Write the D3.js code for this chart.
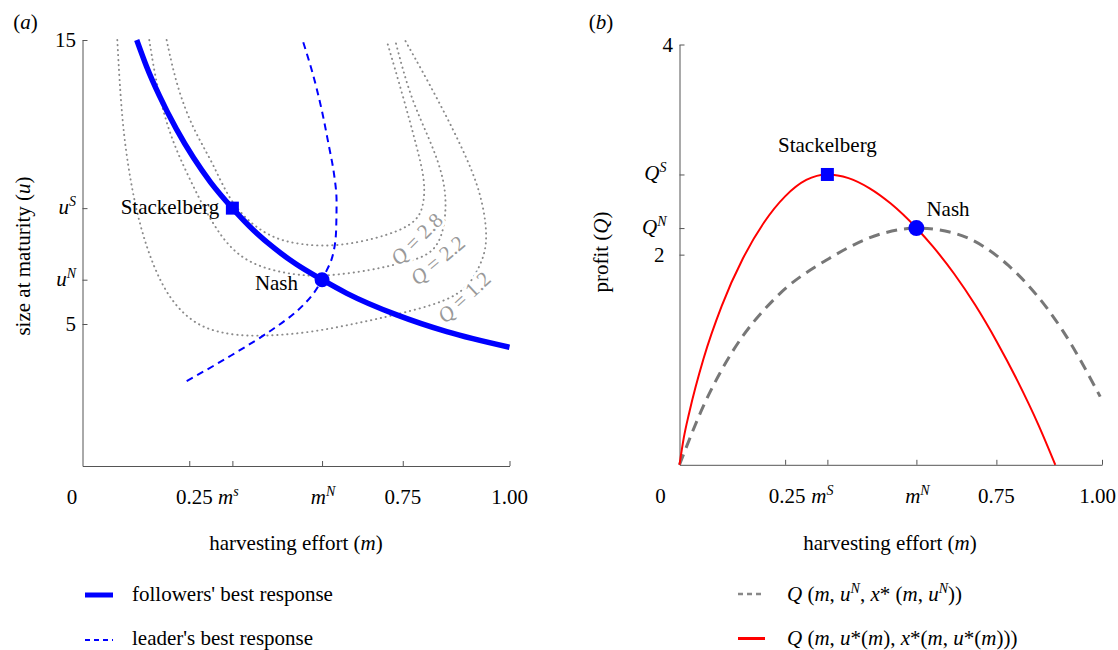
<!DOCTYPE html>
<html><head><meta charset="utf-8">
<script src="https://cdn.jsdelivr.net/npm/d3@7"></script>
<style>
body{margin:0;background:#fff}
svg{display:block}
text{font-family:"Liberation Serif","Times New Roman",Times,serif;font-size:21px;fill:#000}
</style>
</head><body>
<svg id="chart" width="1118" height="650" font-family="Liberation Serif, Times New Roman, serif"></svg>
<script>
// ---------------- data ----------------
// Panel (a): size at maturity u vs harvesting effort m
const followersResponse = [[0.127,15.0],[0.15,14.07],[0.18,13.04],[0.22,11.86],[0.26,10.85],[0.30,9.99],[0.351,9.08],[0.40,8.31],[0.45,7.66],[0.50,7.11],[0.561,6.56],[0.619,6.08],[0.736,5.32],[0.853,4.73],[1.0,4.18]];
const leaderResponse = [[0.517,14.92],[0.538,13.88],[0.559,12.62],[0.576,11.35],[0.5885,10.34],[0.595,9.33],[0.594,8.32],[0.584,7.31],[0.567,6.74],[0.561,6.56],[0.537,6.0],[0.498,5.4],[0.449,4.85],[0.349,3.9],[0.244,2.99]];
const contourQ12 = [[0.0815,15.0],[0.0918,12.18],[0.1112,10.07],[0.1347,8.43],[0.1658,7.02],[0.2049,5.85],[0.2595,5.02],[0.322,4.67],[0.40,4.55],[0.525,4.67],[0.642,5.02],[0.751,5.38],[0.891,5.96],[0.931,7.02],[0.950,7.84],[0.939,9.25],[0.9075,10.66],[0.8295,13.0],[0.755,15.0]];
const contourQ22 = [[0.1564,15.0],[0.1738,13.36],[0.2049,11.60],[0.2518,10.07],[0.3063,8.43],[0.3689,7.25],[0.4625,6.79],[0.556,6.64],[0.681,6.90],[0.7436,7.14],[0.831,7.45],[0.853,8.78],[0.849,10.07],[0.814,11.48],[0.767,13.0],[0.732,15.0]];
const contourQ28 = [[0.197,15.0],[0.2206,13.36],[0.2595,11.83],[0.3063,10.66],[0.350,9.12],[0.4314,8.07],[0.509,7.78],[0.603,7.72],[0.720,8.13],[0.785,8.6],[0.800,9.25],[0.802,10.07],[0.783,11.24],[0.751,13.0],[0.712,15.0]];
const contourLevels = ["1.2","2.2","2.8"];
const contourLabelAt = [[0.893,5.95],[0.831,7.25],[0.782,8.0]];
const contourLabelAngle = [-43,-40,-45];
const stackelbergA = [0.351, 9.08];
const nashA = [0.561, 6.56];
const xTicksA = [0, 0.25, 0.351, 0.561, 0.75, 1.0];
const yTicksA = [15, 9.08, 6.56, 5];

// Panel (b): profit Q vs harvesting effort m
const profitNashU = [[0,0],[0.057,0.563],[0.125,1.075],[0.227,1.588],[0.3543,1.964],[0.4817,2.203],[0.5607,2.253],[0.6516,2.203],[0.779,1.895],[0.9065,1.28],[0.9957,0.649]];
const profitLeader = [[0,0],[0.0102,0.258],[0.023,0.496],[0.057,1.012],[0.10,1.513],[0.15,1.963],[0.20,2.306],[0.25,2.555],[0.30,2.711],[0.35,2.763],[0.40,2.728],[0.45,2.631],[0.50,2.486],[0.5607,2.254],[0.60,2.076],[0.65,1.818],[0.70,1.520],[0.75,1.179],[0.80,0.799],[0.85,0.376],[0.8895,0]];
const stackelbergB = [0.350, 2.763];
const nashB = [0.5607, 2.253];
const xTicksB = [0, 0.25, 0.350, 0.5607, 0.75, 1.0];
const yTicksB = [4, 2.763, 2.253, 2];

// ---------------- drawing ----------------
const svg = d3.select("#chart");
svg.append("rect").attr("width",1118).attr("height",650).attr("fill","#fff");

function rich(g, x, y, parts, anchor){
  const t = g.append("text").attr("x",x).attr("y",y).attr("text-anchor",anchor||"start");
  let up = false;
  parts.forEach(p=>{
    const s = t.append("tspan").text(p.t);
    if(p.i) s.style("font-style","italic");
    if(p.sup){ s.attr("font-size",14); if(!up){ s.attr("dy",-8); up=true; } }
    else if(up){ s.attr("dy",8); up=false; }
  });
  return t;
}
const lineX = (xs,ys)=>d3.line().x(d=>xs(d[0])).y(d=>ys(d[1])).curve(d3.curveMonotoneX);
const lineY = (xs,ys)=>d3.line().x(d=>xs(d[0])).y(d=>ys(d[1])).curve(d3.curveMonotoneY);
const lineB = (xs,ys)=>d3.line().x(d=>xs(d[0])).y(d=>ys(d[1])).curve(d3.curveBasis);

// ===== Panel (a) =====
const xa = d3.scaleLinear().domain([0,1]).range([82.5,509.5]);
const ya = d3.scaleLinear().domain([0,15]).range([466,40]);
const ga = svg.append("g");

ga.append("g").attr("transform",`translate(0,${ya(0)})`)
  .call(d3.axisBottom(xa).tickValues(xTicksA.slice(1)).tickSizeInner(-5).tickSizeOuter(0).tickFormat(""));
ga.append("g").attr("transform",`translate(${xa(0)},0)`)
  .call(d3.axisLeft(ya).tickValues(yTicksA).tickSizeInner(-5).tickSizeOuter(0).tickFormat(""));
ga.selectAll(".domain, .tick line").attr("stroke","#555").attr("stroke-width",1);

// contours
[contourQ12, contourQ22, contourQ28].forEach(c=>{
  ga.append("path").attr("d",lineB(xa,ya)(c)).attr("fill","none")
    .attr("stroke","#8a8a8a").attr("stroke-width",1.9).attr("stroke-dasharray","0.3,4.7").attr("stroke-linecap","round");
});
contourLevels.forEach((lv,i)=>{
  const [m,u]=contourLabelAt[i];
  ga.append("text").attr("transform",`translate(${xa(m)},${ya(u)}) rotate(${contourLabelAngle[i]})`)
    .attr("text-anchor","middle").attr("dy","0.35em").attr("font-size",22)
    .style("fill","#999").attr("stroke","#fff").attr("stroke-width",6).attr("paint-order","stroke")
    .html(`<tspan font-style="italic">Q</tspan> = ${lv}`);
});

// best responses
ga.append("path").attr("d",lineY(xa,ya)(leaderResponse)).attr("fill","none")
  .attr("stroke","#0000ff").attr("stroke-width",2).attr("stroke-dasharray","7,5");
ga.append("path").attr("d",lineX(xa,ya)(followersResponse)).attr("fill","none")
  .attr("stroke","#0000ff").attr("stroke-width",5.5);

ga.append("rect").attr("x",xa(stackelbergA[0])-6.5).attr("y",ya(stackelbergA[1])-6.5)
  .attr("width",13).attr("height",13).attr("fill","#0000ff");
ga.append("circle").attr("cx",xa(nashA[0])).attr("cy",ya(nashA[1])).attr("r",7.5).attr("fill","#0000ff");
ga.append("text").attr("x",xa(stackelbergA[0])-13).attr("y",ya(stackelbergA[1])+6).attr("text-anchor","end").text("Stackelberg");
ga.append("text").attr("x",xa(nashA[0])-24).attr("y",ya(nashA[1])+10).attr("text-anchor","end").text("Nash");

// tick labels (a)
const xlA = ya(0)+38;
rich(ga, xa(0)-10.5, xlA, [{t:"0"}], "middle");
rich(ga, xa(0.25)+5, xlA, [{t:"0.25"}], "middle");
rich(ga, xa(xTicksA[2])-4, xlA, [{t:"m",i:true},{t:"s",i:true,sup:true}], "middle");
rich(ga, xa(xTicksA[3])+1, xlA, [{t:"m",i:true},{t:"N",i:true,sup:true}], "middle");
rich(ga, xa(0.75), xlA, [{t:"0.75"}], "middle");
rich(ga, xa(1), xlA, [{t:"1.00"}], "middle");
const ylx = xa(0)-6.5;
rich(ga, ylx, ya(15)+7, [{t:"15"}], "end");
rich(ga, ylx, ya(yTicksA[1])+6, [{t:"u",i:true},{t:"S",i:true,sup:true}], "end");
rich(ga, ylx, ya(yTicksA[2])+6, [{t:"u",i:true},{t:"N",i:true,sup:true}], "end");
rich(ga, ylx, ya(5)+7, [{t:"5"}], "end");
rich(ga, (xa(0)+xa(1))/2, 550, [{t:"harvesting effort ("},{t:"m",i:true},{t:")"}], "middle");
rich(ga.append("g").attr("transform","translate(30,256) rotate(-90)"), 0, 0, [{t:"size at maturity ("},{t:"u",i:true},{t:")"}], "middle");
rich(ga, 25.5, 29, [{t:"("},{t:"a",i:true},{t:")"}], "middle");

// ===== Panel (b) =====
const xb = d3.scaleLinear().domain([0,1]).range([679.5,1102]);
const yb = d3.scaleLinear().domain([0,4]).range([464.8,44.5]);
const gb = svg.append("g");
gb.append("g").attr("transform",`translate(0,${yb(0)})`)
  .call(d3.axisBottom(xb).tickValues(xTicksB.slice(1)).tickSizeInner(-5).tickSizeOuter(0).tickFormat(""));
gb.append("g").attr("transform",`translate(${xb(0)},0)`)
  .call(d3.axisLeft(yb).tickValues(yTicksB).tickSizeInner(-5).tickSizeOuter(0).tickFormat(""));
gb.selectAll(".domain, .tick line").attr("stroke","#555").attr("stroke-width",1);

gb.append("path").attr("d",lineX(xb,yb)(profitNashU)).attr("fill","none")
  .attr("stroke","#777").attr("stroke-width",3).attr("stroke-dasharray","11,7");
gb.append("path").attr("d",lineX(xb,yb)(profitLeader)).attr("fill","none")
  .attr("stroke","#ff0000").attr("stroke-width",2);
gb.append("rect").attr("x",xb(stackelbergB[0])-6.5).attr("y",yb(stackelbergB[1])-6.5)
  .attr("width",13).attr("height",13).attr("fill","#0000ff");
gb.append("circle").attr("cx",xb(nashB[0])).attr("cy",yb(nashB[1])).attr("r",8).attr("fill","#0000ff");
gb.append("text").attr("x",xb(stackelbergB[0])).attr("y",yb(stackelbergB[1])-22).attr("text-anchor","middle").text("Stackelberg");
gb.append("text").attr("x",xb(nashB[0])+10).attr("y",yb(nashB[1])-12.5).text("Nash");

const xlB = yb(0)+38;
rich(gb, xb(0)-19, xlB, [{t:"0"}], "middle");
rich(gb, xb(0.25)+2, xlB, [{t:"0.25"}], "middle");
rich(gb, xb(xTicksB[2])-5, xlB, [{t:"m",i:true},{t:"S",i:true,sup:true}], "middle");
rich(gb, xb(xTicksB[3])+1, xlB, [{t:"m",i:true},{t:"N",i:true,sup:true}], "middle");
rich(gb, xb(0.75), xlB, [{t:"0.75"}], "middle");
rich(gb, 1116, xlB, [{t:"1.00"}], "end");
rich(gb, xb(0)-6.5, yb(4)+7, [{t:"4"}], "end");
rich(gb, xb(0)-13, yb(yTicksB[1])+6, [{t:"Q",i:true},{t:"S",i:true,sup:true}], "end");
rich(gb, xb(0)-13, yb(yTicksB[2])+6, [{t:"Q",i:true},{t:"N",i:true,sup:true}], "end");
rich(gb, xb(0)-15, yb(2)+7, [{t:"2"}], "end");
rich(gb, 890, 550, [{t:"harvesting effort ("},{t:"m",i:true},{t:")"}], "middle");
rich(gb.append("g").attr("transform","translate(608,252) rotate(-90)"), 0, 0, [{t:"profit ("},{t:"Q",i:true},{t:")"}], "middle");
rich(gb, 601, 29, [{t:"("},{t:"b",i:true},{t:")"}], "middle");

// ===== Legends =====
const lg = svg.append("g");
lg.append("line").attr("x1",85).attr("x2",113).attr("y1",595).attr("y2",595).attr("stroke","#0000ff").attr("stroke-width",5);
lg.append("line").attr("x1",85).attr("x2",113).attr("y1",640).attr("y2",640).attr("stroke","#0000ff").attr("stroke-width",2).attr("stroke-dasharray","5,4");
rich(lg, 132, 601, [{t:"followers' best response"}]);
rich(lg, 132, 645, [{t:"leader's best response"}]);
lg.append("line").attr("x1",738).attr("x2",765).attr("y1",594).attr("y2",594).attr("stroke","#888").attr("stroke-width",2.5).attr("stroke-dasharray","5,4");
lg.append("line").attr("x1",738).attr("x2",765).attr("y1",638.5).attr("y2",638.5).attr("stroke","#ff0000").attr("stroke-width",3);
rich(lg, 787, 601, [{t:"Q",i:true},{t:" ("},{t:"m",i:true},{t:", "},{t:"u",i:true},{t:"N",i:true,sup:true},{t:", "},{t:"x",i:true},{t:"*"},{t:" ("},{t:"m",i:true},{t:", "},{t:"u",i:true},{t:"N",i:true,sup:true},{t:"))"}]);
rich(lg, 787, 645, [{t:"Q",i:true},{t:" ("},{t:"m",i:true},{t:", "},{t:"u",i:true},{t:"*("},{t:"m",i:true},{t:"), "},{t:"x",i:true},{t:"*("},{t:"m",i:true},{t:", "},{t:"u",i:true},{t:"*("},{t:"m",i:true},{t:")))"}]);
</script>
</body></html>
